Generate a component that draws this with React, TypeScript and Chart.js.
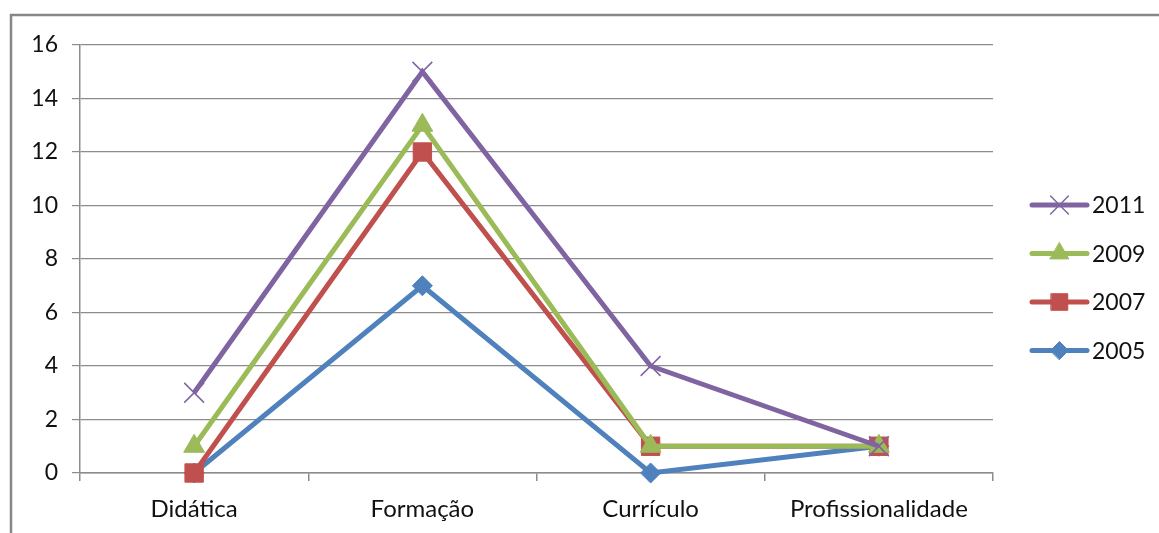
import React, { useEffect, useRef } from "react";
import { Chart, registerables } from "chart.js";
import { drawPoint } from "chart.js/helpers";

Chart.register(...registerables);

const categories = ["Didática", "Formação", "Currículo", "Profissionalidade"];
const seriesLabels = ["2011", "2009", "2007", "2005"];
const values2011 = [3, 15, 4, 1];
const values2009 = [1, 13, 1, 1];
const values2007 = [0, 12, 1, 1];
const values2005 = [0, 7, 0, 1];
const yTicks = { min: 0, max: 16, step: 2 };

const FONT = "Lato";
const W = 1159;
const H = 533;

const legendPlugin = {
  id: "customLegendAndFrame",
  beforeDraw(chart: any) {
    const ctx = chart.ctx;
    ctx.save();
    ctx.strokeStyle = "#878787";
    ctx.lineWidth = 2.5;
    ctx.beginPath();
    ctx.moveTo(11, H + 5);
    ctx.lineTo(11, 15);
    ctx.lineTo(W + 5, 15);
    ctx.stroke();
    ctx.restore();
  },
  afterDraw(chart: any) {
    const ctx = chart.ctx;
    const ds = chart.data.datasets;
    const x0 = 1032;
    const x1 = 1087;
    const yStart = 205;
    const gap = 48.5;
    ctx.save();
    ds.forEach((d: any, i: number) => {
      const y = yStart + i * gap;
      ctx.strokeStyle = d.borderColor;
      ctx.lineWidth = d.borderWidth;
      ctx.lineCap = "round";
      ctx.beginPath();
      ctx.moveTo(x0, y);
      ctx.lineTo(x1, y);
      ctx.stroke();
      ctx.fillStyle = d.pointBackgroundColor;
      ctx.strokeStyle = d.pointBorderColor;
      ctx.lineWidth = d.pointBorderWidth;
      drawPoint(ctx, { pointStyle: d.pointStyle, radius: d.pointRadius * 0.9, rotation: 0, borderWidth: d.pointBorderWidth }, (x0 + x1) / 2, y);
      ctx.fillStyle = "#111";
      ctx.font = `23px ${FONT}`;
      ctx.textBaseline = "middle";
      ctx.textAlign = "left";
      ctx.fillText(d.label, 1092, y + 1);
    });
    ctx.restore();
  },
};

function makeDataset(label: string, data: number[], color: string, style: string, radius: number, pbw: number) {
  return {
    label,
    data,
    borderColor: color,
    backgroundColor: color,
    borderWidth: 5,
    pointStyle: style,
    pointRadius: radius,
    pointHoverRadius: radius,
    pointBackgroundColor: color,
    pointBorderColor: color,
    pointBorderWidth: pbw,
    tension: 0,
    clip: false as any,
  };
}

export default function App() {
  const ref = useRef<HTMLCanvasElement | null>(null);
  useEffect(() => {
    if (!ref.current) return;
    const chart = new Chart(ref.current, {
      type: "line",
      data: {
        labels: categories,
        datasets: [
          makeDataset(seriesLabels[0], values2011, "#8064A2", "crossRot", 14, 1.5),
          makeDataset(seriesLabels[1], values2009, "#9BBB59", "triangle", 12, 1),
          makeDataset(seriesLabels[2], values2007, "#C0504D", "rect", 13, 1),
          makeDataset(seriesLabels[3], values2005, "#4F81BD", "rectRot", 10, 1),
        ] as any,
      },
      plugins: [legendPlugin],
      options: {
        responsive: false,
        animation: false,
        events: [],
        layout: { padding: { top: 45, right: 166, bottom: 0, left: 0 } },
        plugins: { legend: { display: false }, tooltip: { enabled: false } },
        scales: {
          x: {
            offset: true,
            afterFit: (s: any) => { s.height = 60; },
            grid: { offset: true, drawOnChartArea: false, drawTicks: true, tickLength: 8, color: "#8c8c8c", lineWidth: 1.5 },
            border: { color: "#8c8c8c", width: 1.5 },
            ticks: { color: "#111", font: { family: FONT, size: 24 }, padding: 14, maxRotation: 0 },
          },
          y: {
            min: yTicks.min,
            max: yTicks.max,
            afterFit: (s: any) => { s.width = 80; },
            grid: { color: "#8c8c8c", lineWidth: 1.2, tickLength: 8, drawTicks: true },
            border: { color: "#8c8c8c", width: 1.5 },
            ticks: { stepSize: yTicks.step, color: "#111", font: { family: FONT, size: 23 }, padding: 14 },
          },
        },
      },
    });
    return () => chart.destroy();
  }, []);
  return (
    <div style={{ position: "absolute", left: 0, top: 0, width: W, height: H, background: "#fff" }}>
      <canvas ref={ref} width={W} height={H} style={{ display: "block", width: W, height: H }} />
    </div>
  );
}
